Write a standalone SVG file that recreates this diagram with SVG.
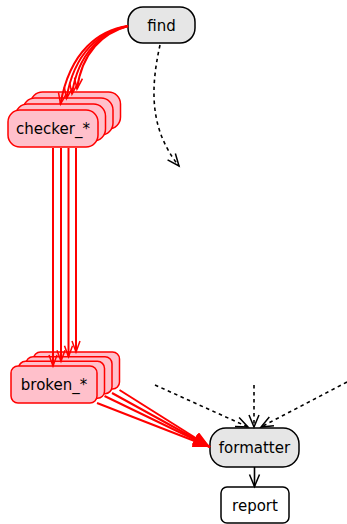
<svg xmlns="http://www.w3.org/2000/svg" width="347" height="524" viewBox="0 0 347 524">
<style>
text{font-family:"DejaVu Sans","Liberation Sans",sans-serif;font-size:15px;fill:#000;text-anchor:middle}
.gray{fill:#e6e6e6;stroke:#000;stroke-width:1.5}
.white{fill:#fff;stroke:#000;stroke-width:1.5}
.pink{fill:#ffc0cb;stroke:#ff0000;stroke-width:1.5}
.red{fill:none;stroke:#ff0000;stroke-width:2}
.dash{fill:none;stroke:#000;stroke-width:1.6;stroke-dasharray:3.5,3.5}
.solid{fill:none;stroke:#000;stroke-width:1.6}
</style>
<defs>
<marker id="veeB" markerUnits="userSpaceOnUse" markerWidth="16" markerHeight="14" refX="13" refY="6" orient="auto">
<path d="M1,1 L13,6 L1,11" fill="none" stroke="#000" stroke-width="1.5"/>
</marker>
<marker id="veeR" markerUnits="userSpaceOnUse" markerWidth="16" markerHeight="14" refX="12" refY="5" orient="auto">
<path d="M1,1 L12,5 L1,9" fill="none" stroke="#ff0000" stroke-width="1.5"/>
</marker>
<marker id="triR" markerUnits="userSpaceOnUse" markerWidth="20" markerHeight="14" refX="17" refY="6.5" orient="auto">
<path d="M0,0 L17,6.5 L0,13 z" fill="#ff0000"/>
</marker>
</defs>
<g id="find"><rect class="gray" x="128" y="7" width="67" height="36" rx="15"/><text x="161.5" y="30.5">find</text></g>
<g id="checker_4"><rect class="pink" x="30.5" y="92" width="90" height="37" rx="12"/><text x="75.5" y="115.5">checker_*</text></g>
<g id="checker_3"><rect class="pink" x="23" y="98" width="90" height="37" rx="12"/><text x="68" y="121.5">checker_*</text></g>
<g id="checker_2"><rect class="pink" x="15.5" y="104" width="90" height="37" rx="12"/><text x="60.5" y="127.5">checker_*</text></g>
<g id="checker_1"><rect class="pink" x="8" y="110" width="90" height="37" rx="12"/><text x="53" y="133.5">checker_*</text></g>
<g id="broken_4"><rect class="pink" x="33.5" y="352" width="86" height="37" rx="7"/><text x="76.5" y="375.5">broken_*</text></g>
<g id="broken_3"><rect class="pink" x="26" y="356.7" width="86" height="37" rx="7"/><text x="69" y="380.2">broken_*</text></g>
<g id="broken_2"><rect class="pink" x="18.5" y="361.3" width="86" height="37" rx="7"/><text x="61.5" y="384.8">broken_*</text></g>
<g id="broken_1"><rect class="pink" x="11" y="366" width="86" height="37" rx="7"/><text x="54" y="389.5">broken_*</text></g>
<g id="formatter"><rect class="gray" x="210" y="428" width="89" height="39" rx="16"/><text x="254.5" y="452.5">formatter</text></g>
<g id="report"><rect class="white" x="221" y="487" width="68" height="36" rx="6"/><text x="255" y="510.5">report</text></g>
<g id="connectors">
<path class="red" d="M128,26 C100,30 70,50 60.5,104" marker-end="url(#veeR)"/>
<path class="red" d="M128,26 C101,31 74,52 66.5,98.5" marker-end="url(#veeR)"/>
<path class="red" d="M128,26 C102,32 78,53 72,94" marker-end="url(#veeR)"/>
<path class="red" d="M128,26 C103,33 82,52 77,89" marker-end="url(#veeR)"/>
<path class="red" d="M53,148 L53,366" marker-end="url(#veeR)"/>
<path class="red" d="M61,148 L61,361.3" marker-end="url(#veeR)"/>
<path class="red" d="M68.5,148 L68.5,356.7" marker-end="url(#veeR)"/>
<path class="red" d="M76,148 L76,352" marker-end="url(#veeR)"/>
<path class="red" d="M97,403 L210,447" marker-end="url(#triR)"/>
<path class="red" d="M104.5,396 L210,447" marker-end="url(#triR)"/>
<path class="red" d="M112,393 L210,447" marker-end="url(#triR)"/>
<path class="red" d="M119.5,390 L210,447" marker-end="url(#triR)"/>
<path class="dash" d="M160,45 C150,90 150,130 179,166" marker-end="url(#veeB)"/>
<path class="dash" d="M155,385 L248,427" marker-end="url(#veeB)"/>
<path class="dash" d="M254,385 L254,427" marker-end="url(#veeB)"/>
<path class="dash" d="M347,382 L261,427" marker-end="url(#veeB)"/>
<path class="solid" d="M254.5,467 L254.5,486.5" marker-end="url(#veeB)"/>
</g>
</svg>
